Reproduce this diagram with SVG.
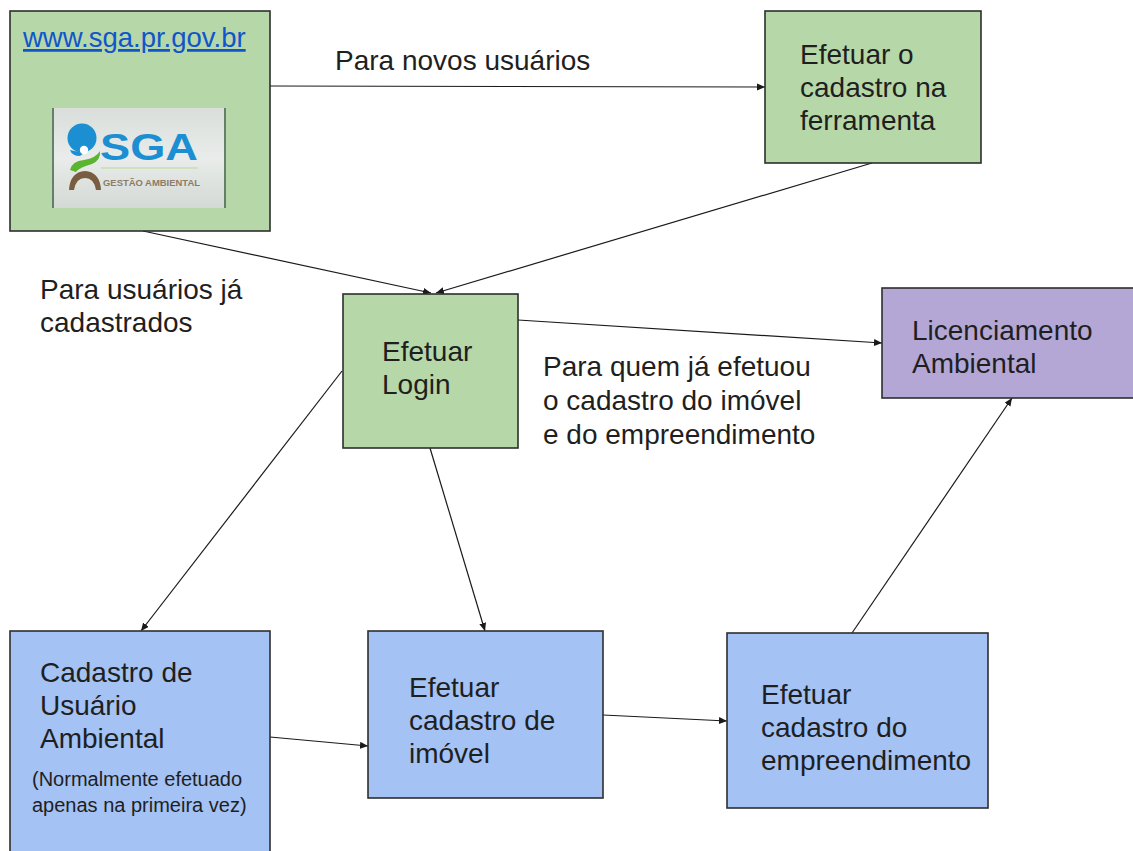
<svg xmlns="http://www.w3.org/2000/svg" width="1133" height="851" viewBox="0 0 1133 851">
<style>
.box{stroke:#2e2e2e;stroke-width:1.6}
.green{fill:#b6d7a8}
.blue{fill:#a4c2f4}
.purple{fill:#b4a7d6}
.t{font-family:"Liberation Sans",Arial,sans-serif;font-size:28px;fill:#1f1f1f}
.s{font-family:"Liberation Sans",Arial,sans-serif;font-size:20px;fill:#1f1f1f}
.c{stroke:#1a1a1a;stroke-width:1.2;fill:none;marker-end:url(#arr)}
</style>
<defs>
<marker id="arr" markerUnits="userSpaceOnUse" markerWidth="9" markerHeight="8" refX="8" refY="3.5" orient="auto">
<path d="M0,0 L8,3.5 L0,7 z" fill="#1a1a1a"/>
</marker>
<linearGradient id="lg" x1="0" y1="0" x2="0" y2="1">
<stop offset="0" stop-color="#d9dedb"/>
<stop offset="0.5" stop-color="#e9ecea"/>
<stop offset="1" stop-color="#d3d9d5"/>
</linearGradient>
</defs>

<g id="connectors">
<line class="c" x1="270" y1="86" x2="765" y2="87"/>
<line class="c" x1="143" y1="231" x2="431" y2="293"/>
<line class="c" x1="872" y1="163" x2="436" y2="293"/>
<line class="c" x1="518" y1="320" x2="882" y2="343"/>
<line class="c" x1="342" y1="371" x2="141" y2="631"/>
<line class="c" x1="430" y1="448" x2="485" y2="631"/>
<line class="c" x1="270" y1="737" x2="368" y2="746"/>
<line class="c" x1="603" y1="715" x2="727" y2="721"/>
<line class="c" x1="852" y1="633" x2="1012" y2="398"/>
</g>

<g id="label-novos">
<text class="t" x="335" y="70">Para novos usuários</text>
</g>
<g id="label-cadastrados">
<text class="t" x="40" y="299">Para usuários já</text>
<text class="t" x="40" y="332">cadastrados</text>
</g>
<g id="label-quem">
<text class="t" x="543" y="376">Para quem já efetuou</text>
<text class="t" x="543" y="410">o cadastro do imóvel</text>
<text class="t" x="543" y="444">e do empreendimento</text>
</g>

<g id="node-site">
<rect class="box green" x="10" y="11" width="260" height="220"/>
<text x="23" y="47" font-family="Liberation Sans,Arial,sans-serif" font-size="27.5" fill="#1155cc" text-decoration="underline">www.sga.pr.gov.br</text>
<g id="logo">
<rect x="52" y="108" width="174" height="100" fill="url(#lg)"/>
<line x1="53" y1="108" x2="53" y2="208" stroke="#3d5e45" stroke-width="1.5"/>
<line x1="225" y1="108" x2="225" y2="208" stroke="#3d5e45" stroke-width="1.5"/>
<circle cx="82" cy="138" r="14.5" fill="#1b8fd2"/>
<path d="M70,150 Q72,156 80,156 L84,153 Z" fill="#1b8fd2"/>
<circle cx="84" cy="150" r="4.2" fill="#ffffff"/>
<path d="M70,170 Q72,161 84,160 Q96,158 100,151 Q101,160 92,164 Q80,167 76,172 Z" fill="#5cb531"/>
<path d="M69,190 Q70,172 85,171 Q100,172 101,190 L96,190 Q94,178 85,178 Q76,178 74,190 Z" fill="#7a5c40"/>
<text x="100" y="160" font-family="Liberation Sans,Arial,sans-serif" font-weight="bold" font-size="37" fill="#1b8fd2" textLength="98" lengthAdjust="spacingAndGlyphs">SGA</text>
<line x1="101" y1="168" x2="198" y2="168" stroke="#b9d99a" stroke-width="1"/>
<text x="103" y="186" font-family="Liberation Sans,Arial,sans-serif" font-weight="bold" font-size="9.5" fill="#8c7b66" textLength="97" lengthAdjust="spacingAndGlyphs">GESTÃO AMBIENTAL</text>
</g>
</g>

<g id="node-ferramenta">
<rect class="box green" x="765" y="11" width="216" height="152"/>
<text class="t" x="800" y="64">Efetuar o</text>
<text class="t" x="800" y="97">cadastro na</text>
<text class="t" x="800" y="130">ferramenta</text>
</g>

<g id="node-login">
<rect class="box green" x="343" y="294" width="175" height="154"/>
<text class="t" x="382" y="361">Efetuar</text>
<text class="t" x="382" y="394">Login</text>
</g>

<g id="node-licenciamento">
<rect class="box purple" x="882" y="288" width="260" height="110"/>
<text class="t" x="912" y="340">Licenciamento</text>
<text class="t" x="912" y="373">Ambiental</text>
</g>

<g id="node-usuario">
<rect class="box blue" x="10" y="631" width="260" height="240"/>
<text class="t" x="40" y="682">Cadastro de</text>
<text class="t" x="40" y="715">Usuário</text>
<text class="t" x="40" y="748">Ambiental</text>
<text class="s" x="32" y="786">(Normalmente efetuado</text>
<text class="s" x="32" y="812">apenas na primeira vez)</text>
</g>

<g id="node-imovel">
<rect class="box blue" x="368" y="631" width="235" height="167"/>
<text class="t" x="409" y="697">Efetuar</text>
<text class="t" x="409" y="730">cadastro de</text>
<text class="t" x="409" y="763">imóvel</text>
</g>

<g id="node-empreendimento">
<rect class="box blue" x="727" y="633" width="261" height="175"/>
<text class="t" x="761" y="704">Efetuar</text>
<text class="t" x="761" y="737">cadastro do</text>
<text class="t" x="761" y="770">empreendimento</text>
</g>
</svg>
